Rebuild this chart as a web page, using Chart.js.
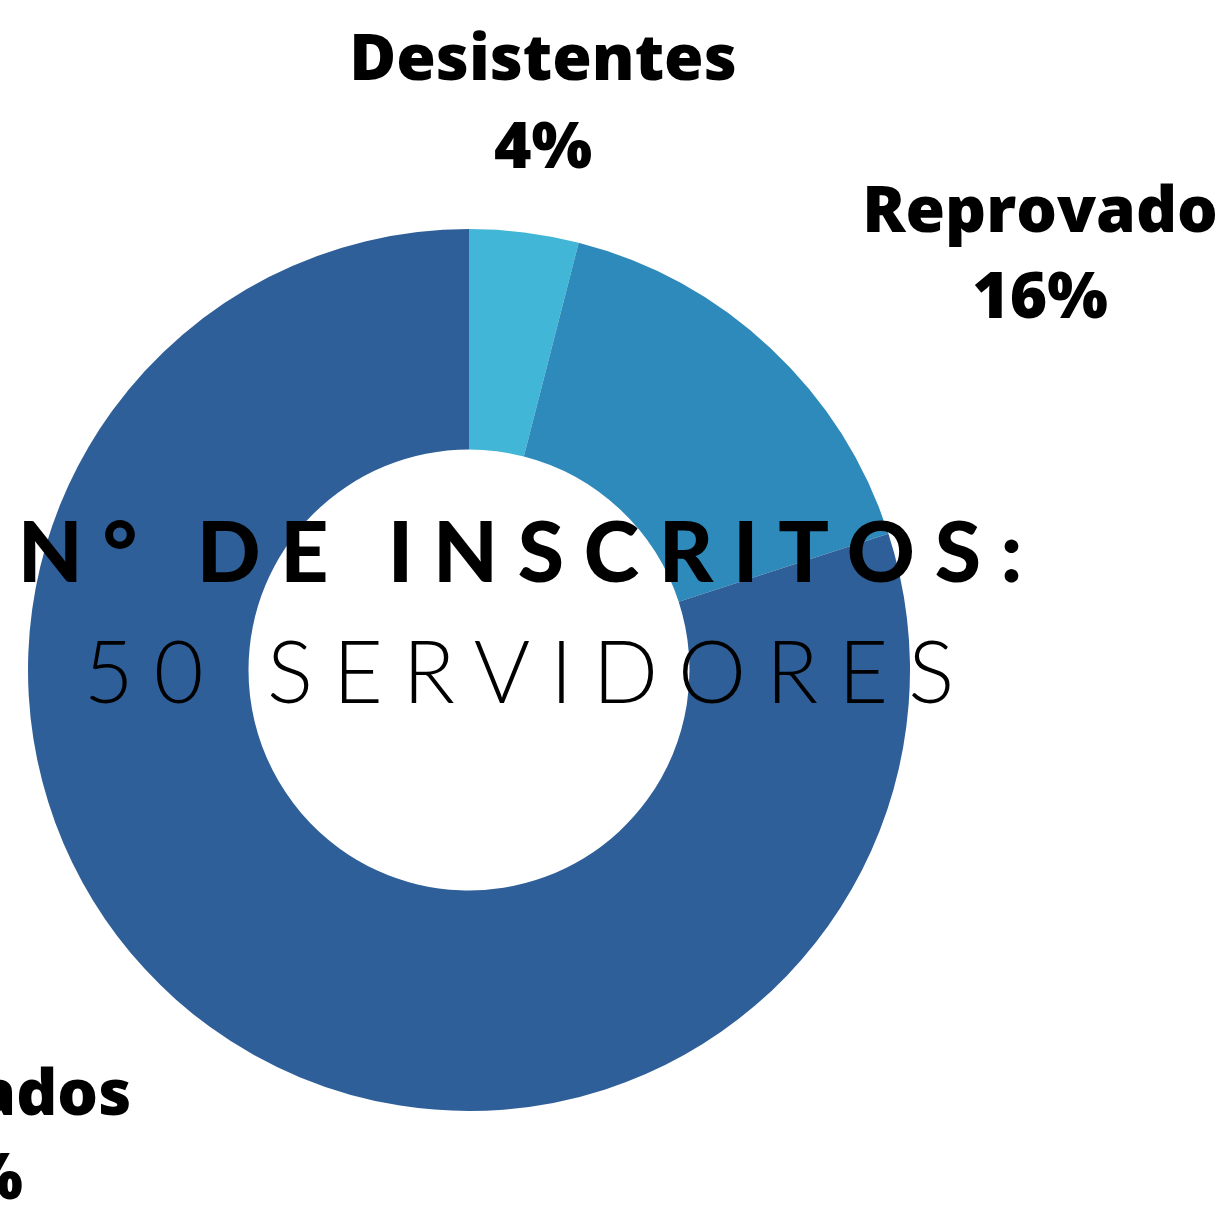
<!DOCTYPE html>
<html>
<head>
<meta charset="utf-8">
<script src="https://cdn.jsdelivr.net/npm/chart.js@4/dist/chart.umd.min.js"></script>
<style>
  html, body { margin: 0; padding: 0; background: #ffffff; overflow: hidden; }
  #wrap { position: relative; width: 1222px; height: 1205px; }
  #chart { position: absolute; left: 0; top: 0; }
  .center-text { position: absolute; left: 0; text-align: center; color: #000; white-space: nowrap; }
  #line1 { top: 500px; width: 1060px; font-family: Lato, 'Open Sans', sans-serif; font-weight: 900; font-size: 84px; letter-spacing: 19.7px; line-height: 100px; }
  #line2 { top: 620px; width: 1058px; font-family: Lato, 'Open Sans', sans-serif; font-weight: 300; font-size: 86px; letter-spacing: 20px; line-height: 100px; }
</style>
</head>
<body>
<div id="wrap">
  <canvas id="chart" width="1222" height="1205"></canvas>
  <div class="center-text" id="line1">N° DE INSCRITOS:</div>
  <div class="center-text" id="line2">50 SERVIDORES</div>
</div>
<script>
// Situação dos inscritos
const categories = ['Desistentes', 'Reprovado', 'Aprovados'];
const values = [4, 16, 80];
const colors = ['#41b6d6', '#2e8aba', '#2f5f98'];

// where each outside label sits (x center, name baseline, percent baseline)
const labelSpots = [
    { x: 543, nameY: 80, pctY: 168 },
    { x: 1040, nameY: 232, pctY: 318 },
    { x: -45, nameY: 1115, pctY: 1199 }
];

const total = values.reduce((a, b) => a + b, 0);

const outsideLabels = {
    id: 'outsideLabels',
    afterDraw(chart) {
        const ctx = chart.ctx;
        ctx.save();
        ctx.fillStyle = '#000000';
        ctx.font = "800 64px 'Open Sans', sans-serif";
        ctx.textAlign = 'center';
        ctx.textBaseline = 'alphabetic';
        categories.forEach((name, i) => {
            const spot = labelSpots[i];
            const pct = Math.round(values[i] / total * 100) + '%';
            ctx.fillText(name, spot.x, spot.nameY);
            ctx.fillText(pct, spot.x, spot.pctY);
        });
        ctx.restore();
    }
};

new Chart(document.getElementById('chart'), {
    type: 'doughnut',
    data: {
        labels: categories,
        datasets: [{
            data: values,
            backgroundColor: colors,
            borderWidth: 0
        }]
    },
    options: {
        responsive: false,
        animation: false,
        cutout: '50%',
        layout: { padding: { left: 28, right: 312, top: 229, bottom: 94 } },
        plugins: {
            legend: { display: false },
            tooltip: { enabled: false }
        }
    },
    plugins: [outsideLabels]
});
</script>
</body>
</html>
